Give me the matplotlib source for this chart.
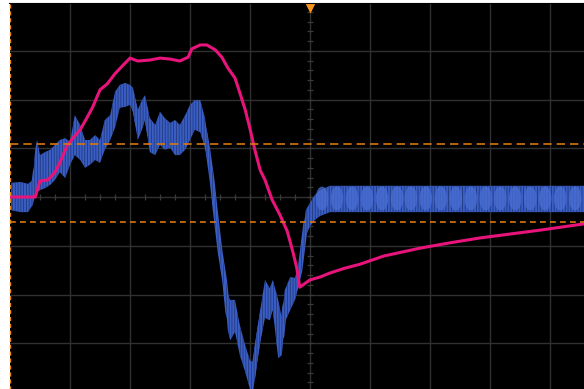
import matplotlib
matplotlib.use('Agg')
import matplotlib.pyplot as plt
import numpy as np
from matplotlib.patches import Ellipse
from matplotlib.lines import Line2D

# screen units: time in divisions (0 = trigger), amplitude in divisions
pink_t = [-4.98, -4.58, -4.50, -4.37, -4.25, -4.17, -4.05, -3.95, -3.83, -3.72, -3.62,
          -3.50, -3.38, -3.25, -3.08, -3.00, -2.87, -2.67, -2.50, -2.33, -2.17, -2.03,
          -1.97, -1.83, -1.72, -1.58, -1.47, -1.37, -1.25, -1.17, -1.08, -1.00, -0.92,
          -0.83, -0.75, -0.63, -0.50, -0.38, -0.28, -0.22, -0.17, -0.08, 0.00, 0.17,
          0.33, 0.58, 0.83, 1.23, 1.83, 2.33, 2.83, 3.33, 3.83, 4.57]
pink_v = [0.00, 0.00, 0.33, 0.35, 0.51, 0.70, 1.05, 1.21, 1.38, 1.62, 1.85,
          2.20, 2.32, 2.53, 2.75, 2.85, 2.79, 2.81, 2.85, 2.83, 2.79, 2.87,
          3.04, 3.12, 3.12, 3.02, 2.87, 2.65, 2.44, 2.14, 1.79, 1.40, 0.97,
          0.55, 0.35, -0.06, -0.37, -0.70, -1.15, -1.46, -1.85, -1.77, -1.70, -1.64,
          -1.56, -1.46, -1.38, -1.21, -1.05, -0.94, -0.84, -0.76, -0.68, -0.55]

blue_t = [-4.98, -4.83, -4.70, -4.62, -4.58, -4.55, -4.50, -4.42, -4.33, -4.25, -4.17,
          -4.08, -4.00, -3.92, -3.83, -3.75, -3.67, -3.58, -3.50, -3.42, -3.33, -3.25,
          -3.17, -3.08, -3.00, -2.95, -2.87, -2.80, -2.75, -2.67, -2.58, -2.50, -2.42,
          -2.33, -2.25, -2.17, -2.08, -2.00, -1.92, -1.83, -1.75, -1.70, -1.63, -1.58,
          -1.50, -1.42, -1.37, -1.33, -1.25, -1.17, -1.08, -1.00, -0.95, -0.92, -0.83,
          -0.75, -0.67, -0.62, -0.53, -0.47, -0.42, -0.33, -0.25, -0.17, -0.12, -0.07,
          0.00, 0.08, 0.17, 0.33, 4.57]
blue_hi = [0.29, 0.31, 0.27, 0.35, 0.97, 1.17, 0.86, 0.92, 0.97, 1.07, 1.17,
           1.21, 1.13, 1.68, 1.48, 1.17, 1.17, 1.27, 1.17, 1.58, 1.68, 2.16,
           2.30, 2.34, 2.30, 2.24, 1.79, 1.99, 2.09, 1.62, 1.48, 1.75, 1.62,
           1.52, 1.58, 1.48, 1.68, 1.89, 1.99, 1.99, 1.62, 1.17, 0.60, 0.04,
           -0.88, -1.54, -2.01, -2.11, -2.11, -2.63, -3.04, -3.35, -3.39, -3.04, -2.32,
           -1.70, -1.87, -1.70, -2.11, -2.48, -1.91, -1.64, -1.66, -1.29, -0.78, -0.27,
           -0.12, 0.04, 0.14, 0.23, 0.23]
blue_lo = [-0.27, -0.31, -0.31, -0.16, 0.04, 0.10, 0.14, 0.18, 0.25, 0.35, 0.51,
           0.39, 0.66, 0.86, 0.76, 0.60, 0.66, 0.76, 0.70, 0.97, 1.17, 1.42,
           1.83, 1.85, 1.89, 1.75, 1.17, 1.38, 1.58, 0.92, 0.86, 1.07, 0.97,
           1.01, 0.86, 0.86, 0.97, 1.17, 1.38, 1.33, 1.01, 0.72, 0.04, -0.57,
           -1.33, -1.95, -2.73, -2.94, -2.77, -3.24, -3.59, -3.94, -4.00, -3.72, -2.98,
           -2.48, -2.53, -2.32, -3.31, -3.24, -2.57, -2.32, -2.11, -1.75, -1.29, -0.80,
           -0.60, -0.47, -0.39, -0.31, -0.31]

# beat lobes of the settled blue signal
lobe_t = [0.20, 0.45, 0.70, 0.95, 1.20, 1.45, 1.68, 1.93, 2.18, 2.43, 2.68, 2.93,
          3.17, 3.42, 3.67, 3.92, 4.17, 4.42]
lobe_v = -0.03

cursor_hi = 1.09
cursor_lo = -0.51

W, H = 584, 389
fig = plt.figure(figsize=(W / 100, H / 100), dpi=100, facecolor='white')
ax = fig.add_axes([10 / W, (H - 392) / H, 600 / W, 388 / H])
ax.set_facecolor('black')
ax.set_xlim(-5, 5)
ax.set_ylim(-4.0, 3.96)
for s in ax.spines.values():
    s.set_visible(False)
ax.set_xticks([])
ax.set_yticks([])

# graticule
for gx in range(-4, 5):
    ax.axvline(gx, color='#303030', lw=1.0, zorder=1)
for gy in range(-3, 4):
    ax.axhline(gy, color='#303030', lw=1.0, zorder=1)
ax.plot(np.arange(-5, 5.01, 0.25), np.zeros(41), ls='none', marker='|',
        ms=4, mew=0.9, color='#3a3a3a', zorder=1)
ax.plot(np.zeros(41), np.arange(-4, 4.01, 0.2), ls='none', marker='_',
        ms=5, mew=0.9, color='#3a3a3a', zorder=1)

# blue channel: envelope band plus a thick centre trace for the steep parts
plt.rcParams['hatch.linewidth'] = 0.6
blue_mid = (np.array(blue_hi) + np.array(blue_lo)) / 2
ax.plot(blue_t, blue_mid, color='#3a5ec4', lw=3.5, solid_joinstyle='round', zorder=2)
ax.fill_between(blue_t, blue_lo, blue_hi, facecolor='#3a5ec4', edgecolor='#22397e',
                hatch='||||||', lw=0, zorder=2)
for lt in lobe_t:
    ax.add_patch(Ellipse((lt, lobe_v), 0.21, 0.49, facecolor='#4a6fd4',
                         edgecolor='none', alpha=0.75, zorder=3))

# pink channel
ax.plot(pink_t, pink_v, color='#e8147c', lw=2.2, solid_joinstyle='round', zorder=4)

# cursors
ax.axhline(cursor_hi, color='#d9780f', lw=1.2, dashes=(5, 3), zorder=5)
ax.axhline(cursor_lo, color='#d9780f', lw=1.2, dashes=(3.5, 2.5), zorder=5)
ax.axvline(-5, color='#f08a10', lw=1.0, dashes=(3, 2), zorder=5, clip_on=False)

# trigger position marker
ax.plot([0], [3.87], marker='v', ms=7, color='#f7941d', mec='none', zorder=6, clip_on=False)

fig.add_artist(Line2D([9 / W, 1], [1 - 2.5 / H] * 2, color='black', lw=0.8))

fig.savefig('out.png', dpi=100, facecolor='white')
